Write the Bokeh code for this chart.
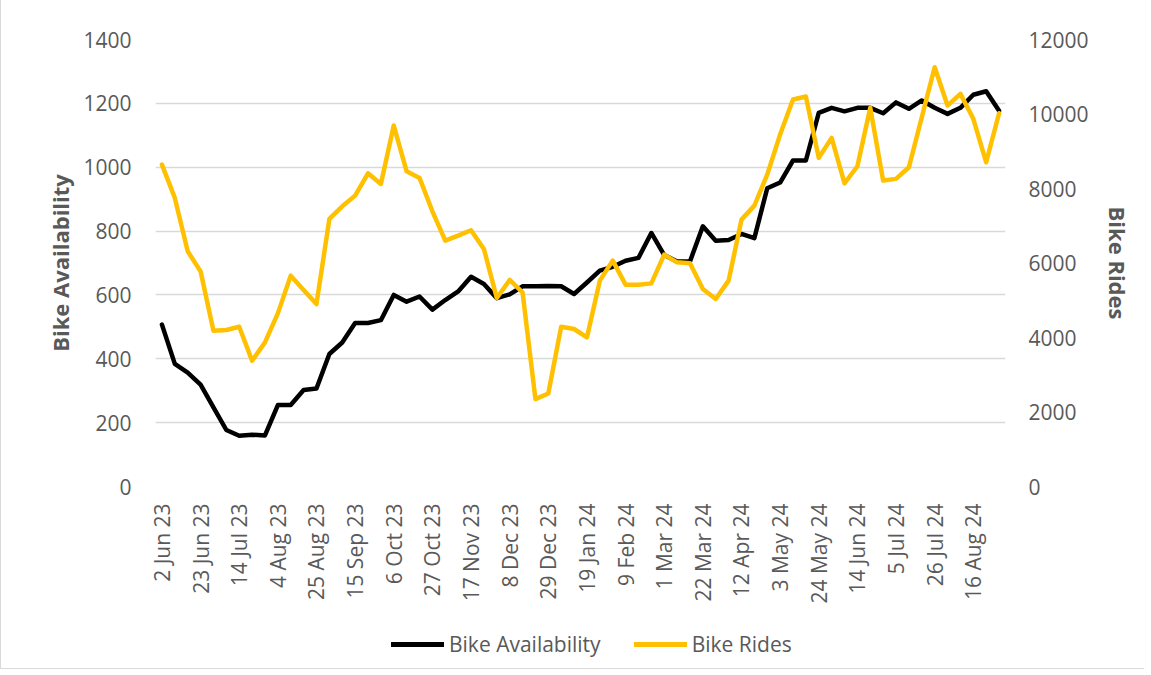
from bokeh.plotting import figure
from bokeh.layouts import column
from bokeh.models import (Range1d, LinearAxis, FixedTicker, Legend, LegendItem,
                          ColumnDataSource)
from bokeh.embed import file_html
from bokeh.resources import INLINE
import math

# ---- data (weekly, 2 Jun 23 .. 30 Aug 24) ----
tick_labels = ["2 Jun 23", "23 Jun 23", "14 Jul 23", "4 Aug 23", "25 Aug 23", "15 Sep 23",
               "6 Oct 23", "27 Oct 23", "17 Nov 23", "8 Dec 23", "29 Dec 23", "19 Jan 24",
               "9 Feb 24", "1 Mar 24", "22 Mar 24", "12 Apr 24", "3 May 24", "24 May 24",
               "14 Jun 24", "5 Jul 24", "26 Jul 24", "16 Aug 24"]
tick_every = 3

availability = [507, 384, 357, 319, 248, 177, 159, 162, 160, 255, 255, 302, 307, 415, 451,
                512, 512, 521, 600, 579, 595, 554, 584, 611, 657, 634, 590, 602, 627, 627,
                628, 627, 603, 639, 676, 688, 707, 716, 794, 725, 705, 705, 815, 770, 772,
                791, 778, 934, 952, 1021, 1021, 1170, 1186, 1175, 1186, 1186, 1169, 1203,
                1183, 1209, 1186, 1167, 1186, 1227, 1238, 1177]

rides = [8642, 7747, 6314, 5776, 4183, 4201, 4290, 3377, 3869, 4648, 5660, 5276, 4899,
         7182, 7522, 7809, 8408, 8123, 9690, 8462, 8284, 7388, 6600, 6735, 6880, 6377,
         5061, 5544, 5212, 2347, 2498, 4290, 4228, 4003, 5526, 6063, 5418, 5418, 5453,
         6224, 6017, 5991, 5303, 5034, 5526, 7164, 7540, 8373, 9450, 10388, 10469, 8822,
         9359, 8140, 8597, 10165, 8212, 8258, 8570, 9913, 11256, 10227, 10541, 9870,
         8704, 10020]

left_ticks = [0, 200, 400, 600, 800, 1000, 1200, 1400]
right_ticks = [0, 2000, 4000, 6000, 8000, 10000, 12000]
series_names = ["Bike Availability", "Bike Rides"]
series_colors = ["#000000", "#FFC000"]

week_index = list(range(len(availability)))
src = ColumnDataSource(dict(x=week_index, avail=availability, rides=rides))

FONT = "Open Sans"
GREY = "#595959"
W = 1143

p = figure(width=W, height=620, output_backend="svg", toolbar_location=None,
           x_range=Range1d(-0.5, len(week_index) - 0.5),
           y_range=Range1d(left_ticks[0], left_ticks[-1]),
           min_border_left=154, min_border_right=139, min_border_top=39,
           min_border_bottom=134)
p.outline_line_color = None
p.extra_y_ranges = {"rides": Range1d(right_ticks[0], right_ticks[-1])}

# grid
p.xgrid.grid_line_color = None
p.ygrid.grid_line_color = "#d9d9d9"
p.ygrid.grid_line_width = 1.3
p.ygrid.ticker = FixedTicker(ticks=left_ticks)

# x axis
xa = p.xaxis[0]
xa.ticker = FixedTicker(ticks=[i * tick_every for i in range(len(tick_labels))])
xa.major_label_overrides = {i * tick_every: lab for i, lab in enumerate(tick_labels)}
xa.major_label_orientation = math.pi / 2
xa.axis_line_color = None
xa.major_tick_line_color = None
xa.minor_tick_line_color = None
xa.major_label_standoff = 11
xa.major_label_text_font = FONT
xa.major_label_text_font_size = "21px"
xa.major_label_text_color = GREY

# left axis
ya = p.yaxis[0]
ya.ticker = FixedTicker(ticks=left_ticks)
ya.axis_label = series_names[0]
ya.axis_line_color = None
ya.major_tick_line_color = None
ya.minor_tick_line_color = None
ya.major_label_standoff = 18
ya.axis_label_standoff = 5

# right axis
ra = LinearAxis(y_range_name="rides", ticker=FixedTicker(ticks=right_ticks),
                axis_label=series_names[1])
ra.axis_line_color = None
ra.major_tick_line_color = None
ra.minor_tick_line_color = None
ra.major_label_standoff = 17
ra.axis_label_standoff = 11
p.add_layout(ra, "right")

for ax in (ya, ra):
    ax.major_label_text_font = FONT
    ax.major_label_text_font_size = "21px"
    ax.major_label_text_color = GREY
    ax.axis_label_text_font = FONT
    ax.axis_label_text_font_size = "22px"
    ax.axis_label_text_font_style = "bold"
    ax.axis_label_text_color = GREY

p.line("x", "avail", source=src, line_color=series_colors[0], line_width=4.5,
       line_join="round", line_cap="round")
p.line("x", "rides", source=src, y_range_name="rides", line_color=series_colors[1],
       line_width=4.5, line_join="round", line_cap="round")

# ---- legend strip below the chart ----
leg = figure(width=W, height=48, output_backend="svg", toolbar_location=None,
             x_range=Range1d(0, 1), y_range=Range1d(0, 1),
             min_border_left=0, min_border_right=0, min_border_top=0,
             min_border_bottom=0)
leg.axis.visible = False
leg.grid.grid_line_color = None
leg.outline_line_color = None
items = []
for name, col in zip(series_names, series_colors):
    # legend-only line, kept outside the visible range of this strip
    r = leg.line(x=[5, 6], y=[5, 6], line_color=col, line_width=5, line_cap="round")
    items.append(LegendItem(label=name, renderers=[r]))
legend = Legend(items=items, orientation="horizontal", location=(236, 10))
legend.border_line_color = None
legend.background_fill_alpha = 0
legend.label_text_font = FONT
legend.label_text_font_size = "21px"
legend.label_text_color = GREY
legend.glyph_width = 53
legend.glyph_height = 20
legend.label_standoff = 5
legend.spacing = 33
legend.padding = 0
legend.margin = 0
leg.add_layout(legend)

layout = column(p, leg, spacing=0)
layout.styles = {"border-left": "1px solid #d9d9d9", "border-bottom": "1px solid #d9d9d9"}

open("out.html", "w").write(file_html(layout, INLINE))
